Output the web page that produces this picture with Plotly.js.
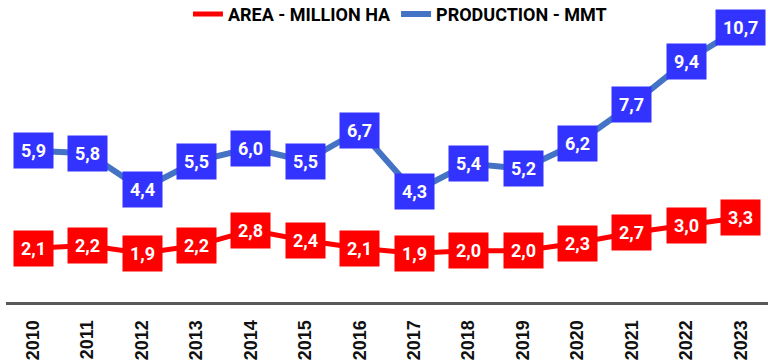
<!DOCTYPE html>
<html>
<head>
<meta charset="utf-8">
<script src="https://cdn.plot.ly/plotly-3.0.1.min.js"></script>
<style>html,body{margin:0;padding:0;background:#fff;}#chart{width:768px;height:362px;}</style>
</head>
<body>
<div id="chart"></div>
<script>
var years = ['2010','2011','2012','2013','2014','2015','2016','2017','2018','2019','2020','2021','2022','2023'];
var area = [2.1, 2.2, 1.9, 2.2, 2.8, 2.4, 2.1, 1.9, 2.0, 2.0, 2.3, 2.7, 3.0, 3.3];
var production = [5.9, 5.8, 4.4, 5.5, 6.0, 5.5, 6.7, 4.3, 5.4, 5.2, 6.2, 7.7, 9.4, 10.7];
var areaName = 'AREA - MILLION HA';
var prodName = 'PRODUCTION - MMT';

function fmt(v){ return v.toFixed(1).replace('.', ','); }

var traces = [
  {x: years, y: area, name: areaName, type: 'scatter', mode: 'lines',
   line: {color: '#FF0000', width: 5}},
  {x: years, y: production, name: prodName, type: 'scatter', mode: 'lines',
   line: {color: '#4472C4', width: 6}}
];

var annotations = [];
function addLabels(vals, bg){
  for (var i = 0; i < years.length; i++){
    annotations.push({x: i, y: vals[i], xref: 'x', yref: 'y', text: fmt(vals[i]),
      showarrow: false, bgcolor: bg, borderpad: 7,
      font: {family: 'Roboto', size: 18, color: '#FFFFFF', weight: 'bold'},
      xanchor: 'center', yanchor: 'middle'});
  }
}
addLabels(area, '#FF0000');
addLabels(production, '#3333FF');

var layout = {
  width: 768, height: 362,
  margin: {l: 6, r: 0, t: 20, b: 60, autoexpand: false},
  paper_bgcolor: '#FFFFFF', plot_bgcolor: '#FFFFFF',
  showlegend: true,
  legend: {orientation: 'h', x: 0.517, xanchor: 'center', y: 1.02, yanchor: 'middle',
    font: {family: 'Roboto', size: 18, color: '#000000', weight: 'bold'}, itemwidth: 30,
    traceorder: 'normal'},
  xaxis: {type: 'category', range: [-0.5, 13.5], showgrid: false, zeroline: false,
    showline: true, linecolor: '#595959', linewidth: 3, ticks: '', tickangle: -90,
    ticklabelstandoff: 8,
    tickfont: {family: 'Liberation Sans', size: 18, color: '#111111', weight: 'bold'}},
  yaxis: {range: [0, 11], visible: false, showgrid: false, zeroline: false},
  annotations: annotations
};

Plotly.newPlot('chart', traces, layout, {displayModeBar: false, staticPlot: true});
</script>
</body>
</html>
